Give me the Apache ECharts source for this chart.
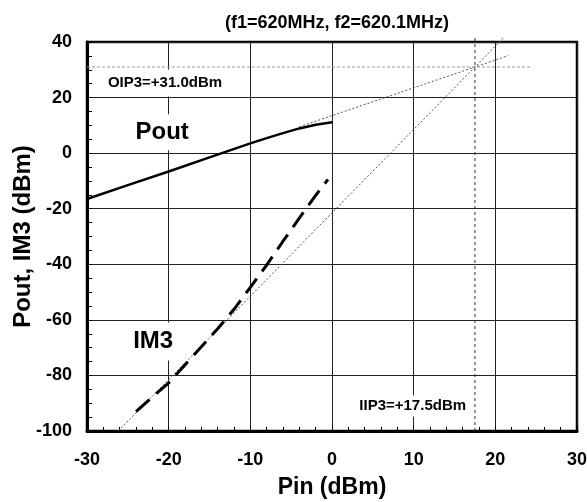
<!DOCTYPE html>
<html>
<head>
<meta charset="utf-8">
<script src="https://cdn.jsdelivr.net/npm/echarts@6/dist/echarts.min.js"></script>
<style>html,body{margin:0;padding:0;background:#fff}#c{width:587px;height:502px}</style>
</head>
<body>
<div id="c"></div>
<script>
var titleText = '(f1=620MHz, f2=620.1MHz)';
var xName = 'Pin (dBm)';
var yName = 'Pout, IM3 (dBm)';

var poutPin = [-30, -25, -20, -15, -10, -8, -6, -4, -2, -1, 0];
var poutVal = [-16.5, -11.5, -6.6, -1.5, 3.5, 5.4, 7.2, 8.9, 10.2, 10.7, 11.1];

var im3Pin = [-24, -22, -20, -18, -16, -14, -12, -10, -8, -6, -4, -2, -0.5];
var im3Val = [-93, -87.8, -82.7, -76.2, -69.7, -63.2, -56.2, -48.3, -40.3, -31.7, -23.4, -15.2, -9.5];

var poutExtPin = [-4, 21.6];
var poutExtVal = [9.5, 35.1];
var im3ExtPin = [-26.17, 21.1];
var im3ExtVal = [-100, 41.8];
var oip3Pin = [-30, 24.5];
var oip3Val = [31, 31];
var iip3Pin = [17.5, 17.5];
var iip3Val = [-100, 41.8];

var labelTexts = ['Pout', 'IM3', 'OIP3=+31.0dBm', 'IIP3=+17.5dBm'];
var labelPin = [-20.8, -21.9, -20.45, 9.88];
var labelVal = [7.5, -67.8, 25.2, -91.0];

function pairs(xs, ys) { return xs.map(function (x, i) { return [x, ys[i]]; }); }

var FONT = '"Liberation Sans", Arial, sans-serif';
var chart = echarts.init(document.getElementById('c'), null, { renderer: 'canvas' });

var labelStyles = [
  { fontSize: 24, padding: [6, 3] },
  { fontSize: 24, padding: [7, 3] },
  { fontSize: 15, padding: [6, 3] },
  { fontSize: 15, padding: [3, 3] }
];

chart.setOption({
  animation: false,
  backgroundColor: '#fff',
  title: {
    text: titleText, left: 332, top: 9, textAlign: 'center',
    textStyle: { fontFamily: FONT, fontWeight: 'bold', fontSize: 18, color: '#000' }
  },
  grid: { left: 87, right: 10, top: 42, bottom: 71, containLabel: false, outerBoundsMode: 'none',
    show: true, borderColor: '#000', borderWidth: 2.5, backgroundColor: 'transparent' },
  xAxis: {
    type: 'value', min: -30, max: 30, interval: 10,
    name: xName, nameLocation: 'middle', nameGap: 45, nameMoveOverlap: false,
    nameTextStyle: { fontFamily: FONT, fontWeight: 'bold', fontSize: 23, color: '#000' },
    axisLine: { show: true, onZero: false, lineStyle: { color: '#000', width: 3 } },
    axisTick: { show: true, inside: true, length: 5, lineStyle: { color: '#000' } },
    minorTick: { show: true, splitNumber: 5, length: 4, lineStyle: { color: '#000' } },
    axisLabel: { fontFamily: FONT, fontWeight: 'bold', fontSize: 18, color: '#000', margin: 20 },
    splitLine: { show: true, lineStyle: { color: '#222', width: 1 } }
  },
  yAxis: {
    type: 'value', min: -100, max: 40, interval: 20,
    name: yName, nameLocation: 'middle', nameGap: 52, nameRotate: 90, nameMoveOverlap: false,
    nameTextStyle: { fontFamily: FONT, fontWeight: 'bold', fontSize: 24, color: '#000' },
    axisLine: { show: true, onZero: false, lineStyle: { color: '#000', width: 3 } },
    axisTick: { show: true, inside: true, length: 5, lineStyle: { color: '#000' } },
    minorTick: { show: true, splitNumber: 4, length: 5, lineStyle: { color: '#000' } },
    axisLabel: { fontFamily: FONT, fontWeight: 'bold', fontSize: 18, color: '#000', margin: 15 },
    splitLine: { show: true, lineStyle: { color: '#222', width: 1 } }
  },
  series: [
    { type: 'line', data: pairs(oip3Pin, oip3Val), symbol: 'none', silent: true, clip: false,
      lineStyle: { color: '#999', width: 1, type: [3, 2] } },
    { type: 'line', data: pairs(iip3Pin, iip3Val), symbol: 'none', silent: true, clip: false,
      lineStyle: { color: '#333', width: 1, type: [3, 3] } },
    { type: 'line', data: pairs(poutExtPin, poutExtVal), symbol: 'none', silent: true, clip: false,
      lineStyle: { color: '#555', width: 1, type: [2, 2] } },
    { type: 'line', data: pairs(im3ExtPin, im3ExtVal), symbol: 'none', silent: true, clip: false,
      lineStyle: { color: '#555', width: 1, type: [2, 2] } },
    { type: 'line', data: pairs(poutPin, poutVal), symbol: 'none', smooth: false,
      lineStyle: { color: '#000', width: 2.5 } },
    { type: 'line', data: pairs(im3Pin, im3Val), symbol: 'none', smooth: false,
      lineStyle: { color: '#000', width: 3, type: [18, 9] } },
    { type: 'scatter', symbolSize: 0, silent: true, z: 5,
      itemStyle: { opacity: 1, color: '#000' },
      data: labelTexts.map(function (t, i) {
        return {
          value: [labelPin[i], labelVal[i]],
          label: {
            show: true, position: 'inside', formatter: t,
            fontFamily: FONT, fontWeight: 'bold', color: '#000', opacity: 1,
            textBorderWidth: 0,
            fontSize: labelStyles[i].fontSize, padding: labelStyles[i].padding,
            backgroundColor: '#fff'
          }
        };
      })
    }
  ]
});
</script>
</body>
</html>
